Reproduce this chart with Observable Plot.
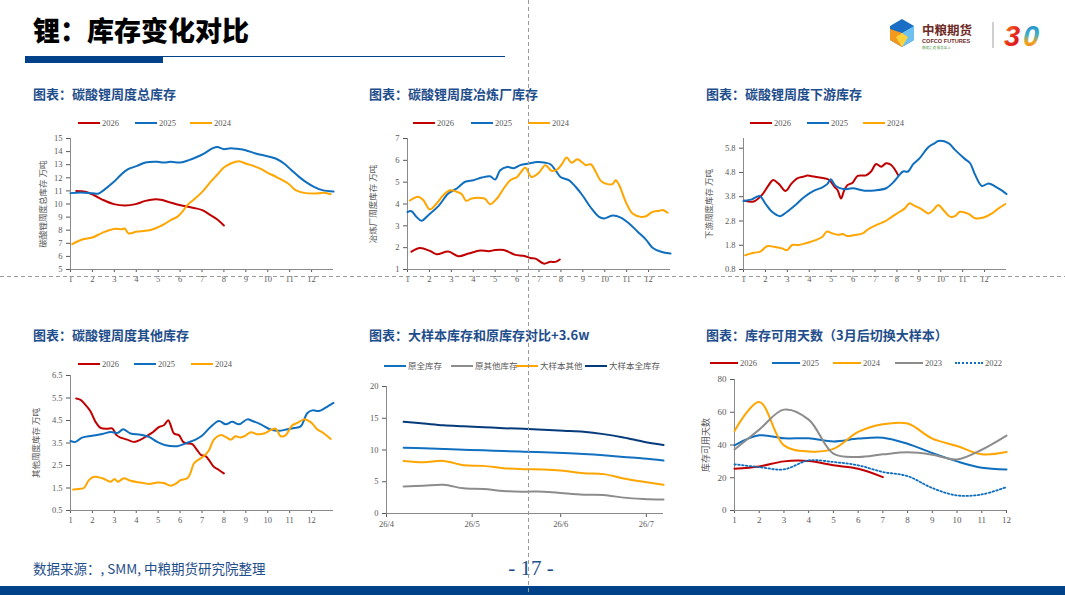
<!DOCTYPE html>
<html>
<head>
<meta charset="utf-8">
<script src="https://cdn.jsdelivr.net/npm/d3@7"></script>
<script src="https://cdn.jsdelivr.net/npm/@observablehq/plot@0.6"></script>
<style>
  body { margin: 0; background: #fff; }
  #slide { position: relative; width: 1065px; height: 595px; overflow: hidden; background: #fff; font-family: "Noto Sans CJK SC", sans-serif; }
  .ctitle { position: absolute; font-size: 13px; font-weight: 700; color: #1F4E8C; white-space: nowrap; line-height: 16px; }
  .leg { position: absolute; font-family: "Liberation Serif", "Noto Sans CJK SC", serif; font-size: 8.5px; color: #595959; white-space: nowrap; line-height: 10px; }
  .chart { position: absolute; }
</style>
</head>
<body>
<div id="slide">
  <div style="position:absolute;left:33px;top:12px;font-size:27px;font-weight:900;line-height:36px;color:#000;">锂：库存变化对比</div>
  <div style="position:absolute;left:25px;top:56px;width:138px;height:7px;background:#00428A;"></div>
  <div style="position:absolute;left:163px;top:56px;width:342px;height:1.3px;background:#00428A;"></div>

  <div class="ctitle" style="left:33px;top:86px;">图表：碳酸锂周度总库存</div>
  <div class="ctitle" style="left:369px;top:86px;">图表：碳酸锂周度冶炼厂库存</div>
  <div class="ctitle" style="left:706px;top:86px;">图表：碳酸锂周度下游库存</div>
  <div class="ctitle" style="left:33px;top:327px;">图表：碳酸锂周度其他库存</div>
  <div class="ctitle" style="left:369px;top:327px;">图表：大样本库存和原库存对比+3.6w</div>
  <div class="ctitle" style="left:706px;top:327px;">图表：库存可用天数（3月后切换大样本）</div>

  <div id="c1" class="chart"></div>
  <div id="c2" class="chart"></div>
  <div id="c3" class="chart"></div>
  <div id="c4" class="chart"></div>
  <div id="c5" class="chart"></div>
  <div id="c6" class="chart"></div>

  <div style="position:absolute;left:33px;top:560px;font-size:13.5px;line-height:16px;color:#1F4E8C;white-space:nowrap;">数据来源：, SMM, 中粮期货研究院整理</div>
  <div style="position:absolute;left:496px;top:555px;width:70px;text-align:center;font-family:'Liberation Serif',serif;font-size:21px;line-height:26px;color:#1F4E8C;">- 17 -</div>
  <div style="position:absolute;left:0;top:586px;width:1065px;height:9px;background:#00428A;"></div>

  <svg style="position:absolute;left:885px;top:15px;" width="175" height="40">
    <defs>
      <linearGradient id="g3" x1="0" y1="0" x2="1" y2="1">
        <stop offset="0" stop-color="#F7A21B"/><stop offset="0.5" stop-color="#E8301C"/><stop offset="1" stop-color="#D7001A"/>
      </linearGradient>
      <linearGradient id="g0" x1="0" y1="0" x2="0" y2="1">
        <stop offset="0" stop-color="#1E7FD0"/><stop offset="0.45" stop-color="#3AB0C8"/><stop offset="0.7" stop-color="#F3A51E"/><stop offset="1" stop-color="#E85A1A"/>
      </linearGradient>
    </defs>
    <polygon points="17,4 29,11 29,25 17,32 5,25 5,11" fill="#1A6FC4"/>
    <polygon points="17,18 29,11 29,25 17,32" fill="#6EC1EE"/>
    <polygon points="17,18 17,32 5,25 5,14" fill="#F39A1E"/>
    <polygon points="17,18 23,22 17,32 11,22" fill="#FFD23C"/>
    <text x="37" y="20" font-size="12.5" font-weight="700" fill="#6E2B26" font-family="Noto Sans CJK SC">中粮期货</text>
    <text x="37" y="28" font-size="5.6" font-weight="700" fill="#6E2B26" font-family="Liberation Sans">COFCO FUTURES</text>
    <text x="37" y="34" font-size="3.5" fill="#5a9a4a" font-family="Noto Sans CJK SC">稳健之道 服务至上</text>
    <line x1="108" y1="7" x2="108" y2="33" stroke="#a0a0a0" stroke-width="1"/>
    <text x="119" y="31" font-size="29" font-weight="700" font-style="italic" fill="url(#g3)" font-family="Liberation Sans">3</text>
    <text x="138" y="31" font-size="29" font-weight="700" font-style="italic" fill="url(#g0)" font-family="Liberation Sans">0</text>
  </svg>

  <svg style="position:absolute;left:0;top:0;pointer-events:none;z-index:10;" width="1065" height="595">
    <line x1="528.5" y1="0" x2="528.5" y2="595" stroke="#9a9a9a" stroke-dasharray="4,3" stroke-width="1"/>
    <line x1="0" y1="276.5" x2="1065" y2="276.5" stroke="#9a9a9a" stroke-dasharray="4,3" stroke-width="1"/>
  </svg>
</div>

<script>
// ---- data (x = month position, y = value) ----
const months = [1, 2, 3, 4, 5, 6, 7, 8, 9, 10, 11, 12];
const yearNames = ["2026", "2025", "2024"];
const yearColors = ["#C00000", "#0F6EBE", "#FFA500"];

// 碳酸锂周度总库存 (万吨)
const total2026 = [[1.26,11.0],[1.68,10.93],[2.07,10.67],[2.45,10.34],[2.98,9.99],[3.5,9.89],[3.97,9.99],[4.42,10.24],[4.88,10.37],[5.19,10.3],[5.49,10.14],[5.87,9.96],[6.25,9.83],[6.63,9.7],[7.01,9.53],[7.39,9.15],[7.7,8.82],[8.0,8.36]];
const total2025 = [[1.0,10.83],[1.46,10.88],[1.99,10.83],[2.29,10.8],[2.52,11.06],[2.98,11.69],[3.28,12.2],[3.59,12.63],[4.04,12.91],[4.42,13.17],[4.96,13.22],[5.26,13.17],[5.57,13.22],[6.02,13.17],[6.4,13.35],[6.71,13.55],[7.09,13.85],[7.47,14.24],[7.7,14.36],[7.97,14.19],[8.31,14.26],[8.61,14.21],[8.99,14.11],[9.45,13.85],[9.98,13.65],[10.36,13.47],[10.74,13.09],[11.05,12.63],[11.43,12.07],[11.73,11.69],[12.11,11.31],[12.49,11.06],[13.0,10.95]];
const total2024 = [[1.08,6.93],[1.53,7.29],[1.99,7.44],[2.45,7.8],[2.98,8.1],[3.36,8.08],[3.47,8.13],[3.66,7.75],[4.04,7.9],[4.42,7.95],[4.73,8.05],[5.03,8.26],[5.26,8.44],[5.57,8.77],[5.87,9.02],[6.1,9.4],[6.33,9.91],[6.63,10.34],[7.01,10.93],[7.39,11.69],[7.7,12.25],[8.0,12.79],[8.31,13.09],[8.69,13.27],[8.99,13.09],[9.37,12.89],[9.68,12.68],[9.98,12.4],[10.44,12.02],[10.97,11.51],[11.27,11.06],[11.65,10.85],[12.11,10.8],[12.57,10.85],[12.87,10.75]];

// 碳酸锂周度冶炼厂库存
const smelter2026 = [[1.18,1.82],[1.57,1.99],[2.02,1.85],[2.33,1.7],[2.86,1.82],[3.32,1.61],[3.78,1.73],[4.32,1.87],[4.7,1.84],[5.0,1.89],[5.39,1.89],[5.61,1.81],[5.92,1.67],[6.3,1.63],[6.61,1.53],[6.84,1.5],[7.22,1.27],[7.52,1.35],[7.75,1.35],[7.95,1.46]];
const smelter2025 = [[1.0,3.63],[1.18,3.67],[1.41,3.41],[1.64,3.23],[1.95,3.49],[2.41,3.9],[2.86,4.48],[3.25,4.71],[3.63,5.02],[4.01,5.09],[4.39,5.21],[4.77,5.27],[5.0,5.12],[5.23,5.55],[5.54,5.7],[5.84,5.64],[6.15,5.78],[6.53,5.85],[6.91,5.92],[7.29,5.89],[7.52,5.82],[7.75,5.55],[7.98,5.24],[8.36,5.09],[8.67,4.79],[8.98,4.4],[9.36,3.84],[9.74,3.41],[9.97,3.34],[10.35,3.47],[10.73,3.38],[11.11,3.11],[11.5,2.73],[11.88,2.37],[12.18,2.0],[12.57,1.81],[13.0,1.73]];
const smelter2024 = [[1.11,4.16],[1.49,4.33],[1.72,4.18],[2.02,3.75],[2.33,4.02],[2.63,4.4],[2.94,4.63],[3.25,4.56],[3.48,4.45],[3.67,4.15],[3.93,4.25],[4.32,4.28],[4.54,4.24],[4.77,3.99],[5.08,4.25],[5.39,4.71],[5.69,5.09],[6.0,5.24],[6.38,5.66],[6.65,5.24],[6.99,5.43],[7.29,5.78],[7.57,5.52],[7.83,5.58],[8.06,5.85],[8.26,6.13],[8.49,5.89],[8.75,6.05],[8.98,5.9],[9.13,5.78],[9.36,5.82],[9.59,5.47],[9.82,5.06],[10.12,4.91],[10.35,4.91],[10.5,5.09],[10.66,4.86],[10.96,4.1],[11.27,3.56],[11.65,3.41],[11.88,3.44],[12.18,3.64],[12.49,3.69],[12.64,3.72],[12.87,3.6]];

// 碳酸锂周度下游库存
const down2026 = [[1.03,3.64],[1.46,3.6],[1.84,3.87],[2.15,4.28],[2.35,4.49],[2.61,4.33],[2.92,4.04],[3.18,4.33],[3.45,4.56],[3.76,4.63],[3.91,4.67],[4.22,4.63],[4.68,4.56],[4.91,4.49],[5.14,4.22],[5.29,4.08],[5.45,3.73],[5.6,4.08],[5.75,4.28],[5.98,4.38],[6.21,4.66],[6.59,4.68],[6.82,4.84],[7.05,5.15],[7.28,5.04],[7.51,5.18],[7.74,5.11],[8.05,4.7]];
const down2025 = [[1.0,3.62],[1.38,3.69],[1.73,3.83],[1.99,3.53],[2.3,3.18],[2.68,3.0],[2.99,3.18],[3.37,3.46],[3.76,3.78],[4.22,4.05],[4.6,4.19],[4.83,4.33],[4.98,4.52],[5.21,4.24],[5.6,4.11],[5.98,4.15],[6.52,4.05],[6.98,4.06],[7.51,4.15],[7.82,4.38],[8.12,4.7],[8.28,4.84],[8.51,4.84],[8.74,5.14],[9.04,5.39],[9.43,5.84],[9.73,6.01],[9.89,6.1],[10.35,6.01],[10.65,5.73],[11.11,5.35],[11.34,5.18],[11.57,4.7],[11.88,4.24],[12.18,4.35],[12.49,4.22],[12.8,4.05],[13.0,3.91]];
const down2024 = [[1.08,1.39],[1.46,1.49],[1.77,1.54],[2.07,1.76],[2.38,1.74],[2.76,1.67],[2.99,1.6],[3.22,1.81],[3.53,1.81],[3.91,1.9],[4.29,2.01],[4.6,2.15],[4.8,2.36],[5.06,2.29],[5.32,2.23],[5.52,2.26],[5.75,2.18],[6.06,2.22],[6.44,2.29],[6.67,2.45],[7.05,2.63],[7.43,2.77],[7.74,2.95],[8.12,3.18],[8.35,3.31],[8.58,3.53],[8.81,3.42],[9.12,3.29],[9.43,3.11],[9.66,3.25],[9.89,3.46],[10.12,3.25],[10.42,2.98],[10.65,3.0],[10.88,3.18],[11.27,3.09],[11.57,2.91],[11.95,2.94],[12.34,3.11],[12.64,3.32],[12.95,3.5]];

// 碳酸锂周度其他库存
const other2026 = [[1.26,5.48],[1.46,5.42],[1.68,5.2],[1.91,4.91],[2.14,4.44],[2.37,4.17],[2.67,4.13],[2.9,4.15],[3.1,3.85],[3.28,3.74],[3.59,3.65],[3.89,3.55],[4.2,3.65],[4.5,3.82],[4.77,3.99],[5.03,4.21],[5.26,4.29],[5.46,4.51],[5.57,4.29],[5.72,3.92],[5.95,3.85],[6.14,3.55],[6.33,3.48],[6.56,3.45],[6.78,3.18],[6.97,2.96],[7.16,2.92],[7.32,2.74],[7.54,2.44],[7.77,2.3],[8.0,2.15]];
const other2025 = [[1.0,3.59],[1.23,3.55],[1.53,3.74],[1.99,3.82],[2.45,3.9],[2.83,3.99],[3.16,3.95],[3.4,4.11],[3.74,3.92],[4.2,3.87],[4.58,3.77],[4.96,3.55],[5.34,3.4],[5.87,3.36],[6.33,3.51],[6.71,3.65],[7.01,3.83],[7.39,4.21],[7.77,4.48],[8.08,4.33],[8.38,4.44],[8.69,4.33],[9.07,4.55],[9.3,4.48],[9.68,4.33],[10.13,4.1],[10.51,4.04],[10.89,4.11],[11.2,4.17],[11.5,4.24],[11.81,4.83],[12.04,4.95],[12.34,4.92],[12.64,5.07],[13.0,5.28]];
const other2024 = [[1.12,1.43],[1.38,1.46],[1.61,1.5],[1.84,1.85],[2.07,2.0],[2.45,1.93],[2.83,1.78],[3.01,1.9],[3.16,1.78],[3.44,1.93],[3.74,1.82],[4.2,1.74],[4.58,1.68],[4.96,1.74],[5.26,1.72],[5.57,1.6],[5.79,1.68],[6.02,1.85],[6.33,1.93],[6.48,2.18],[6.63,2.59],[6.86,2.77],[7.09,2.92],[7.32,3.18],[7.54,3.65],[7.85,3.85],[8.08,3.77],[8.31,3.65],[8.53,3.8],[8.76,3.74],[8.99,3.83],[9.22,3.98],[9.52,3.89],[9.83,3.92],[10.13,4.07],[10.36,4.14],[10.59,3.8],[10.82,3.85],[11.12,4.29],[11.35,4.39],[11.65,4.55],[11.96,4.43],[12.26,4.11],[12.57,3.92],[12.87,3.68]];

// 大样本库存和原库存对比 (weekly)
const sampleDates = ["2026-04-07","2026-04-14","2026-04-21","2026-04-28","2026-05-05","2026-05-12","2026-05-19","2026-05-26","2026-06-02","2026-06-09","2026-06-16","2026-06-23","2026-06-30","2026-07-07"];
const sampleNames = ["原全库存", "原其他库存", "大样本其他", "大样本全库存"];
const sampleColors = ["#1170C0", "#8C8C8C", "#FFA500", "#053B7A"];
const origTotal   = [10.36,10.26,10.16,10.05,9.95,9.84,9.74,9.64,9.53,9.38,9.17,8.9,8.65,8.33];
const origOther   = [4.27,4.38,4.53,3.96,3.85,3.54,3.44,3.44,3.18,2.97,2.92,2.5,2.29,2.19];
const bigOther    = [8.28,8.07,8.28,7.6,7.5,7.14,6.98,6.93,6.72,6.35,6.2,5.52,5.0,4.53];
const bigTotal    = [14.43,14.17,13.9,13.75,13.6,13.44,13.33,13.18,13.02,12.86,12.5,11.98,11.3,10.78];
const sampleTicks = ["2026-04-01","2026-05-01","2026-06-01","2026-07-01"];

// 库存可用天数 (monthly)
const dayNames = ["2026", "2025", "2024", "2023", "2022"];
const dayColors = ["#C00000", "#0F6EBE", "#FFA500", "#8C8C8C", "#0F6EBE"];
const days2026 = [25.5,26.9,30.0,30.2,27.6,25.5,20.4];
const days2025 = [39.8,45.9,44.1,44.1,42.2,43.9,44.5,40.8,35.1,30.0,26.1,25.1];
const days2024 = [48.6,66.3,39.8,36.1,37.6,48.0,52.7,53.1,43.9,39.4,34.3,35.7];
const days2023 = [37.3,49.4,61.6,55.5,34.7,32.7,34.3,35.5,34.1,31.2,37.1,45.7];
const days2022 = [28.2,26.5,25.1,30.6,29.6,27.6,23.5,21.0,13.7,9.2,9.8,14.3];

// ---- helpers ----
const slide = document.getElementById("slide");
const axisColor = "#8a8a8a";
const baseStyle = {
  fontFamily: "'Liberation Serif', 'Noto Sans CJK SC', serif",
  fontSize: "8.5px",
  color: "#595959",
  background: "transparent",
  overflow: "visible",
  maxWidth: "none"
};

function addLegend(items, y) {
  for (const it of items) {
    const d = document.createElement("div");
    d.className = "leg";
    d.style.left = it.x + "px";
    d.style.top = (y - 5) + "px";
    if (it.cjk) d.style.fontFamily = "'Noto Sans CJK SC', sans-serif";
    const sw = document.createElement("span");
    sw.style.cssText = `display:inline-block;width:${it.w || 22}px;height:0;border-top:${it.dash ? 2 : 2.5}px ${it.dash ? "dotted" : "solid"} ${it.color};vertical-align:middle;margin-right:2px;position:relative;top:-1px`;
    d.appendChild(sw);
    d.appendChild(document.createTextNode(it.label));
    slide.appendChild(d);
  }
}

function place(id, left, top, fig) {
  const el = document.getElementById(id);
  el.style.left = left + "px";
  el.style.top = top + "px";
  el.append(fig);
}

function seasonChart({id, left, top, plotBox, yDomain, yTicks, yFormat, yLabel, labelOffset, series, xDomain = [1, 13], fontSize = "8.5px"}) {
  const [pl, pr, pt, pb] = plotBox;
  const mL = pl - left, mT = pt - top, mR = 14, mB = 22;
  const fig = Plot.plot({
    width: pr - left + mR,
    height: pb - top + mB,
    marginLeft: mL, marginRight: mR, marginTop: mT, marginBottom: mB,
    x: {domain: xDomain},
    y: {domain: yDomain},
    style: {...baseStyle, fontSize},
    marks: [
      Plot.axisX({ticks: months, tickSize: 3, tickPadding: 3, label: null, tickFormat: d => d}),
      Plot.axisY({ticks: yTicks, tickSize: 4, tickPadding: 4, tickFormat: yFormat,
        label: yLabel, labelAnchor: "center", labelArrow: "none", labelOffset,
        fontFamily: "'Liberation Serif', 'Noto Sans CJK SC', serif"}),
      Plot.ruleX([xDomain[0]], {stroke: axisColor}),
      Plot.ruleY([yDomain[0]], {stroke: axisColor}),
      ...series.map(s => Plot.line(s.pts, {
        x: d => d[0], y: d => d[1], stroke: s.color, strokeWidth: s.dash ? 1.8 : 2,
        curve: "catmull-rom", strokeDasharray: s.dash
      }))
    ]
  });
  place(id, left, top, fig);
}

const fmt1 = d => d.toFixed(1);

// chart 1
addLegend(yearNames.map((n, i) => ({label: n, color: yearColors[i], x: [78, 135, 190][i]})), 123);
seasonChart({
  id: "c1", left: 20, top: 128, plotBox: [70, 333, 138, 269],
  yDomain: [5, 15], yTicks: d3.range(5, 16), yFormat: d => d,
  yLabel: "碳酸锂周度总库存 万吨", labelOffset: 31,
  series: [total2026, total2025, total2024].map((pts, i) => ({pts, color: yearColors[i]}))
});

// chart 2
addLegend(yearNames.map((n, i) => ({label: n, color: yearColors[i], x: [413, 471, 528][i]})), 123);
seasonChart({
  id: "c2", left: 357, top: 128, plotBox: [407, 670, 138, 269],
  yDomain: [1, 7], yTicks: d3.range(1, 8), yFormat: d => d,
  yLabel: "冶炼厂周度库存 万吨", labelOffset: 38,
  series: [smelter2026, smelter2025, smelter2024].map((pts, i) => ({pts, color: yearColors[i]}))
});

// chart 3
addLegend(yearNames.map((n, i) => ({label: n, color: yearColors[i], x: [750, 807, 863][i]})), 123);
seasonChart({
  id: "c3", left: 693, top: 128, plotBox: [743, 1006, 138, 269],
  yDomain: [0.8, 6.2], yTicks: [0.8, 1.8, 2.8, 3.8, 4.8, 5.8], yFormat: fmt1,
  yLabel: "下游周度库存 万吨", labelOffset: 38,
  series: [down2026, down2025, down2024].map((pts, i) => ({pts, color: yearColors[i]}))
});

// chart 4
addLegend(yearNames.map((n, i) => ({label: n, color: yearColors[i], x: [78, 134, 191][i]})), 364);
seasonChart({
  id: "c4", left: 20, top: 365, plotBox: [70, 333, 375, 510],
  yDomain: [0.5, 6.5], yTicks: [0.5, 1.5, 2.5, 3.5, 4.5, 5.5, 6.5], yFormat: fmt1,
  yLabel: "其他周度库存 万吨", labelOffset: 38,
  series: [other2026, other2025, other2024].map((pts, i) => ({pts, color: yearColors[i]}))
});

// chart 5
addLegend(sampleNames.map((n, i) => ({label: n, color: sampleColors[i], x: [384, 451, 516, 585][i], cjk: true})), 365);
{
  const left = 336, top = 376;
  const [pl, pr, pt, pb] = [386, 663, 386, 513];
  const parse = d3.utcParse("%Y-%m-%d");
  const dates = sampleDates.map(parse);
  const xDomain = [parse("2026-04-01"), parse("2026-07-07")];
  const seriesVals = [origTotal, origOther, bigOther, bigTotal];
  const fig = Plot.plot({
    width: pr - left + 14, height: pb - top + 22,
    marginLeft: pl - left, marginRight: 14, marginTop: pt - top, marginBottom: 22,
    x: {type: "utc", domain: xDomain},
    y: {domain: [0, 20]},
    style: baseStyle,
    marks: [
      Plot.axisX({ticks: sampleTicks.map(parse), tickFormat: d3.utcFormat("%y/%-m"), tickSize: 4, tickPadding: 3, label: null}),
      Plot.axisY({ticks: [0, 5, 10, 15, 20], tickSize: 4, tickPadding: 4, label: null}),
      Plot.ruleX([xDomain[0]], {stroke: axisColor}),
      Plot.ruleY([0], {stroke: axisColor}),
      ...seriesVals.map((vals, i) => Plot.line(vals, {
        x: (d, j) => dates[j], y: d => d, stroke: sampleColors[i], strokeWidth: 2, curve: "catmull-rom"
      }))
    ]
  });
  place("c5", left, top, fig);
}

// chart 6
addLegend(dayNames.map((n, i) => ({label: n, color: dayColors[i], x: [710, 772, 833, 895, 955][i], w: 28, dash: i === 4})), 363);
seasonChart({
  id: "c6", left: 684, top: 369, plotBox: [734, 1006, 379, 510],
  xDomain: [1, 12], fontSize: "9px",
  yDomain: [0, 80], yTicks: [0, 20, 40, 60, 80], yFormat: d => d,
  yLabel: "库存可用天数", labelOffset: 32,
  series: [
    {pts: days2026.map((v, i) => [months[i], v]), color: dayColors[0]},
    {pts: days2025.map((v, i) => [months[i], v]), color: dayColors[1]},
    {pts: days2024.map((v, i) => [months[i], v]), color: dayColors[2]},
    {pts: days2023.map((v, i) => [months[i], v]), color: dayColors[3]},
    {pts: days2022.map((v, i) => [months[i], v]), color: dayColors[4], dash: "1.6,2.2"}
  ]
});
</script>
</body>
</html>
